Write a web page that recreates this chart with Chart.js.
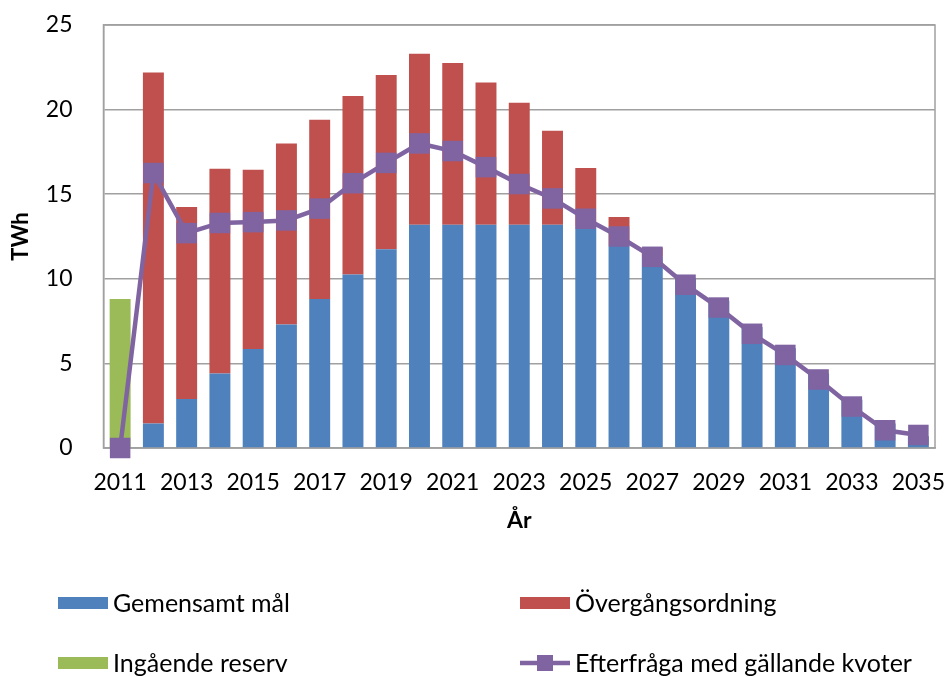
<!DOCTYPE html>
<html>
<head>
<meta charset="utf-8">
<script src="https://cdn.jsdelivr.net/npm/chart.js@4"></script>
<style>
html, body { margin: 0; padding: 0; background: #fff; }
#wrap { width: 949px; height: 677px; }
</style>
</head>
<body>
<div id="wrap"><canvas id="myChart"></canvas></div>
<script>
const years = ["2011","2012","2013","2014","2015","2016","2017","2018","2019","2020","2021","2022","2023",
               "2024","2025","2026","2027","2028","2029","2030","2031","2032","2033","2034","2035"];
const gemensamt = [0, 1.45, 2.9, 4.4, 5.85, 7.3, 8.8, 10.25, 11.75, 13.2, 13.2, 13.2, 13.2,
                   13.2, 13.1, 12.0, 11.3, 10.05, 8.7, 7.15, 5.9, 4.4, 2.85, 1.45, 0.7];
const overgang = [0, 20.75, 11.35, 12.1, 10.6, 10.7, 10.6, 10.55, 10.3, 10.1, 9.55, 8.4, 7.2,
                  5.55, 3.45, 1.65, 0.55, 0, 0, 0, 0, 0, 0, 0, 0];
const reserv = [8.8, 0, 0, 0, 0, 0, 0, 0, 0, 0, 0, 0, 0, 0, 0, 0, 0, 0, 0, 0, 0, 0, 0, 0, 0];
const efterfraga = [0, 16.25, 12.7, 13.3, 13.35, 13.45, 14.15, 15.65, 16.85, 18.0, 17.55, 16.6, 15.6,
                    14.75, 13.55, 12.5, 11.3, 9.65, 8.3, 6.75, 5.5, 4.05, 2.45, 1.05, 0.77];
const yMax = 25;
const yStep = 5;

const FONT = "Lato, 'Open Sans', sans-serif";

// ram runt ritytan
const framePlugin = {
    id: 'frame',
    beforeDatasetsDraw(chart) {
        const a = chart.chartArea;
        const ctx = chart.ctx;
        ctx.save();
        ctx.strokeStyle = '#a0a0a0';
        ctx.lineWidth = 1.5;
        ctx.strokeRect(a.left, a.top, a.right - a.left, a.bottom - a.top);
        ctx.restore();
    }
};

// förklaring i två kolumner under diagrammet
const legendPlugin = {
    id: 'gridLegend',
    afterDraw(chart) {
        const ctx = chart.ctx;
        const ds = chart.data.datasets;
        const cols = [58, 520];
        const rows = [603, 663];
        ctx.save();
        ctx.font = "25px " + FONT;
        ctx.textBaseline = 'middle';
        ds.forEach((d, k) => {
            const x = cols[k % 2];
            const y = rows[Math.floor(k / 2)];
            if (d.type === 'line') {
                ctx.strokeStyle = d.borderColor;
                ctx.lineWidth = 4.5;
                ctx.beginPath();
                ctx.moveTo(x, y);
                ctx.lineTo(x + 50, y);
                ctx.stroke();
                ctx.fillStyle = d.borderColor;
                ctx.fillRect(x + 17, y - 8, 16, 16);
            } else {
                ctx.fillStyle = d.backgroundColor;
                ctx.fillRect(x, y - 6, 50, 12);
            }
            ctx.fillStyle = '#000';
            ctx.fillText(d.label, x + 55, y + 1);
        });
        ctx.restore();
    }
};

new Chart(document.getElementById('myChart'), {
    data: {
        labels: years,
        datasets: [
            { type: 'bar', label: 'Gemensamt mål', data: gemensamt, backgroundColor: '#4F81BD', stack: 's', order: 2 },
            { type: 'bar', label: 'Övergångsordning', data: overgang, backgroundColor: '#C0504D', stack: 's', order: 2 },
            { type: 'bar', label: 'Ingående reserv', data: reserv, backgroundColor: '#9BBB59', stack: 's', order: 2 },
            { type: 'line', label: 'Efterfråga med gällande kvoter', data: efterfraga, stack: 'line', order: 0,
              borderColor: '#8064A2', backgroundColor: '#8064A2', borderWidth: 4.5,
              pointStyle: 'rect', pointRadius: 14.5, pointHoverRadius: 14.5, pointBorderWidth: 0,
              tension: 0, clip: false }
        ]
    },
    options: {
        responsive: true,
        maintainAspectRatio: false,
        animation: false,
        events: [],
        layout: { autoPadding: false, padding: { top: 25, right: 14, left: 0, bottom: 139 } },
        datasets: { bar: { categoryPercentage: 1, barPercentage: 0.63 } },
        plugins: { legend: { display: false }, tooltip: { enabled: false } },
        scales: {
            x: {
                stacked: true,
                grid: { display: false, drawTicks: false },
                border: { display: true, color: '#a0a0a0', width: 1.5 },
                ticks: {
                    color: '#000', font: { family: FONT, size: 23 }, padding: 21,
                    autoSkip: false, maxRotation: 0,
                    callback: function(v, i) { return i % 2 === 0 ? this.getLabelForValue(v) : ''; }
                },
                title: { display: true, text: 'År', color: '#000', font: { family: FONT, size: 23, weight: 'bold' }, padding: { top: 4 } },
                afterFit(s) { s.height = 90; s.paddingLeft = 0; s.paddingRight = 0; }
            },
            y: {
                stacked: true,
                min: 0, max: yMax,
                grid: { color: '#a0a0a0', lineWidth: 1.5, drawTicks: false },
                border: { display: true, color: '#a0a0a0', width: 1.5 },
                ticks: { stepSize: yStep, color: '#000', font: { family: FONT, size: 23 }, padding: 31 },
                title: { display: true, text: 'TWh', color: '#000', font: { family: FONT, size: 22, weight: 'bold' }, padding: { top: 8, bottom: 0 } },
                afterFit(s) { s.width = 103.5; s.paddingTop = 0; s.paddingBottom = 0; }
            }
        }
    },
    plugins: [framePlugin, legendPlugin]
});
</script>
</body>
</html>
